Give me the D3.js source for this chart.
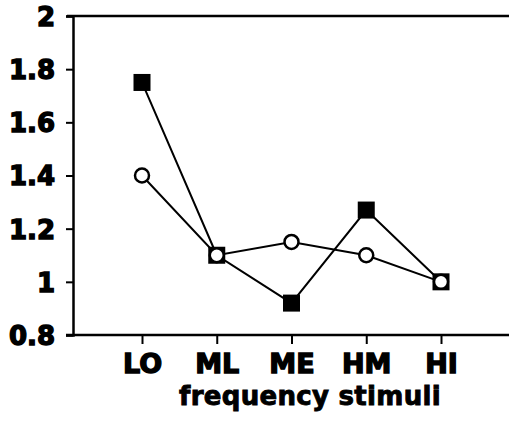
<!DOCTYPE html>
<html>
<head>
<meta charset="utf-8">
<script src="https://cdn.jsdelivr.net/npm/d3@7"></script>
<style>
  body { margin: 0; background: #fff; }
  text { font-family: "DejaVu Sans", sans-serif; font-weight: bold; fill: #000; }
</style>
</head>
<body>
<script>
const categories = ["LO", "ML", "ME", "HM", "HI"];
const squareValues = [1.75, 1.1, 0.92, 1.27, 1.0];
const circleValues = [1.4, 1.1, 1.15, 1.1, 1.0];
const yTicks = [0.8, 1, 1.2, 1.4, 1.6, 1.8, 2];

const width = 509, height = 423;
const svg = d3.select("body").append("svg")
    .attr("width", width).attr("height", height);

const y = d3.scaleLinear().domain([0.8, 2]).range([335, 16]);
const x = d3.scalePoint().domain(categories).range([142, 441]);
const axisX = 73;

// y axis
const yAxis = svg.append("g")
    .attr("transform", `translate(${axisX},0)`)
    .call(d3.axisLeft(y).tickValues(yTicks).tickSize(7).tickPadding(11)
      .tickFormat(d => d3.format("")(d)));
yAxis.select(".domain").attr("stroke-width", 2.5);
yAxis.selectAll(".tick line").attr("stroke-width", 2);
yAxis.selectAll(".tick text")
    .attr("font-family", null).attr("font-size", null)
    .style("font-size", "26px").attr("dy", "0.36em")
    .attr("stroke", "#000").attr("stroke-width", 1.4);

// x axis
const xAxis = svg.append("g")
    .attr("transform", `translate(0,335)`)
    .call(d3.axisBottom(x).tickSize(9).tickPadding(10));
xAxis.select(".domain").remove();
xAxis.selectAll(".tick line").attr("stroke-width", 2);
xAxis.selectAll(".tick text")
    .attr("font-family", null).attr("font-size", null)
    .style("font-size", "27px")
    .attr("stroke", "#000").attr("stroke-width", 1.4);

svg.append("line")
    .attr("x1", 66).attr("x2", width).attr("y1", 335).attr("y2", 335)
    .attr("stroke", "#000").attr("stroke-width", 2.5);
svg.append("line")
    .attr("x1", 67).attr("x2", width).attr("y1", 16).attr("y2", 16)
    .attr("stroke", "#000").attr("stroke-width", 2.5);

svg.append("text")
    .attr("x", 310).attr("y", 405)
    .attr("text-anchor", "middle")
    .style("font-size", "26px").style("letter-spacing", "0.3px")
    .attr("stroke", "#000").attr("stroke-width", 0.9)
    .text("frequency stimuli");

const line = vals => d3.line()
    .x((d, i) => x(categories[i]))
    .y(d => y(d))(vals);

svg.append("path").attr("d", line(squareValues))
    .attr("fill", "none").attr("stroke", "#000").attr("stroke-width", 2);
svg.append("path").attr("d", line(circleValues))
    .attr("fill", "none").attr("stroke", "#000").attr("stroke-width", 2);

svg.selectAll("rect.sq").data(squareValues).enter().append("rect")
    .attr("class", "sq")
    .attr("x", (d, i) => x(categories[i]) - 8.5)
    .attr("y", d => y(d) - 8.5)
    .attr("width", 17).attr("height", 17)
    .attr("fill", "#000");

svg.selectAll("circle.ci").data(circleValues).enter().append("circle")
    .attr("class", "ci")
    .attr("cx", (d, i) => x(categories[i]))
    .attr("cy", d => y(d))
    .attr("r", 7)
    .attr("fill", "#fff").attr("stroke", "#000").attr("stroke-width", 2.5);
</script>
</body>
</html>
